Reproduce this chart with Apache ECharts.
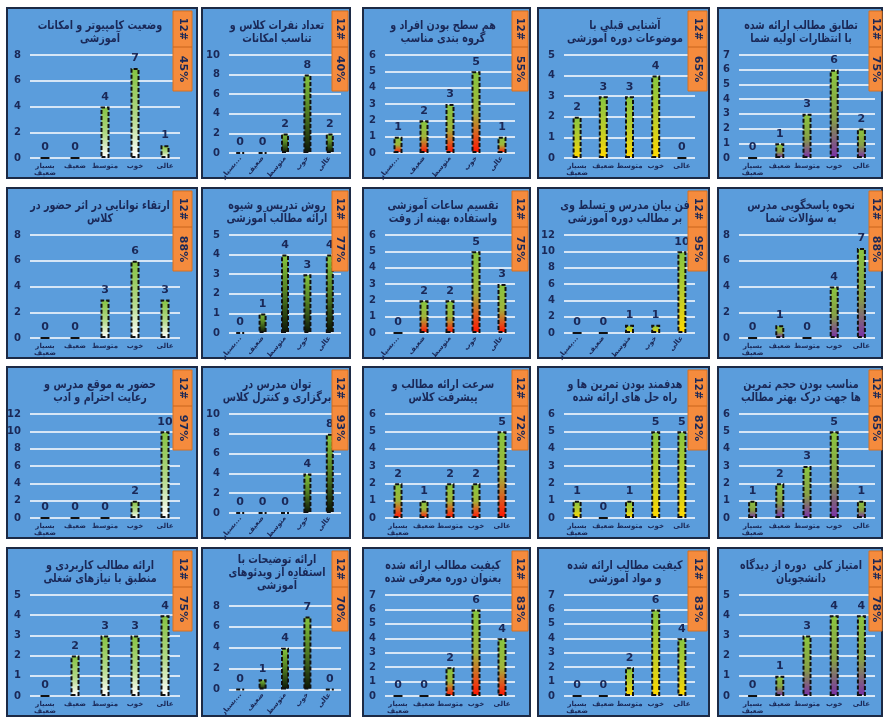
<!DOCTYPE html>
<html><head><meta charset="utf-8">
<script src="https://cdn.jsdelivr.net/npm/echarts@6/dist/echarts.min.js"></script>
<style>html,body{margin:0;padding:0;background:#fff}#c{width:883px;height:719px}</style>
</head><body><div id="c"></div>
<script>
const categories = ['بسیار ضعیف','ضعیف','متوسط','خوب','عالی'];

const titlesRow1 = ['وضعیت کامپیوتر و امکانات\nآموزشی','تعداد نفرات کلاس و\nتناسب امکانات','هم سطح بودن افراد و\nگروه بندی مناسب','آشنایی قبلی با\nموضوعات دوره آموزشی','تطابق مطالب ارائه شده\nبا انتظارات اولیه شما'];
const titlesRow2 = ['ارتقاء توانایی در اثر حضور در\nکلاس','روش تدریس و شیوه\nارائه مطالب آموزشی','تقسیم ساعات آموزشی\nواستفاده بهینه از وقت','فن بیان مدرس و تسلط وی\nبر مطالب دوره آموزشی','نحوه پاسخگویی مدرس\nبه سؤالات شما'];
const titlesRow3 = ['حضور به موقع مدرس و\nرعایت احترام و ادب','توان مدرس در\nبرگزاری و کنترل کلاس','سرعت ارائه مطالب و\nپیشرفت کلاس','هدفمند بودن تمرین ها و\nراه حل های ارائه شده','مناسب بودن حجم تمرین\nها جهت درک بهتر مطالب'];
const titlesRow4 = ['ارائه مطالب کاربردی و\nمنطبق با نیازهای شغلی','ارائه توضیحات با\nاستفاده از ویدئوهای\nآموزشی','کیفیت مطالب ارائه شده\nبعنوان دوره معرفی شده','کیفیت مطالب ارائه شده\nو مواد آموزشی','امتیاز کلی  دوره از دیدگاه\nدانشجویان'];

const valuesRow1 = [[0,0,4,7,1],[0,0,2,8,2],[1,2,3,5,1],[2,3,3,4,0],[0,1,3,6,2]];
const valuesRow2 = [[0,0,3,6,3],[0,1,4,3,4],[0,2,2,5,3],[0,0,1,1,10],[0,1,0,4,7]];
const valuesRow3 = [[0,0,0,2,10],[0,0,0,4,8],[2,1,2,2,5],[1,0,1,5,5],[1,2,3,5,1]];
const valuesRow4 = [[0,2,3,3,4],[0,1,4,7,0],[0,0,2,6,4],[0,0,2,6,4],[0,1,3,4,4]];

const percentsRow1 = ['45%','40%','55%','65%','75%'];
const percentsRow2 = ['88%','77%','75%','95%','88%'];
const percentsRow3 = ['97%','93%','72%','82%','65%'];
const percentsRow4 = ['75%','70%','83%','83%','78%'];
const countLabel = '12#';

const yMaxRow1 = [8,10,6,5,7], yStepRow1 = [2,2,1,1,1];
const yMaxRow2 = [8,5,6,12,8], yStepRow2 = [2,1,1,2,2];
const yMaxRow3 = [12,10,6,6,6], yStepRow3 = [2,2,1,1,1];
const yMaxRow4 = [5,8,7,7,5], yStepRow4 = [1,2,1,1,1];

const rotatedRow1 = [false,true,true,false,false];
const rotatedRow2 = [false,true,true,true,false];
const rotatedRow3 = [false,true,false,false,false];
const rotatedRow4 = [false,true,false,false,false];

const titles = [titlesRow1,titlesRow2,titlesRow3,titlesRow4];
const values = [valuesRow1,valuesRow2,valuesRow3,valuesRow4];
const percents = [percentsRow1,percentsRow2,percentsRow3,percentsRow4];
const yMax = [yMaxRow1,yMaxRow2,yMaxRow3,yMaxRow4];
const yStep = [yStepRow1,yStepRow2,yStepRow3,yStepRow4];
const rotated = [rotatedRow1,rotatedRow2,rotatedRow3,rotatedRow4];

// layout
const colX = [[7,197],[202,350],[363,530],[538,709],[718,882]];
const rowY = [[8,178],[188,358],[367,538],[548,716]];
const gridX = [[30,180],[229,341],[385,515],[564,695],[739,875]];
const titleCx = [100,277,443,625,801];
const boxX = [[173,192],[332,348],[512,528],[688,707],[869,882]];
const navy = '#1a2857';
const FONT = '"DejaVu Sans", sans-serif';

function grad(c){
  const ends = [
    [[0,'#84c140'],[0.55,'#b3d98a'],[1,'#ffffff']],
    [[0,'#86c53f'],[0.5,'#4f7a22'],[1,'#0a1405']],
    [[0,'#86c53f'],[0.5,'#9fb53a'],[0.8,'#e0541c'],[1,'#ff1200']],
    [[0,'#86c53f'],[0.5,'#b9cc2c'],[1,'#ffd800']],
    [[0,'#8cc63f'],[0.55,'#86a046'],[1,'#7a2fa8']]
  ][c];
  return {type:'linear',x:0,y:0,x2:0,y2:1,colorStops:ends.map(s=>({offset:s[0],color:s[1]}))};
}

const grid=[], xAxis=[], yAxis=[], series=[], graphic=[];
for(let r=0;r<4;r++){
  for(let c=0;c<5;c++){
    const i=r*5+c;
    const px0=colX[c][0], px1=colX[c][1], py0=rowY[r][0], py1=rowY[r][1];
    const rot=rotated[r][c];
    const threeLine = titles[r][c].split('\n').length>2;
    const gt = py0 + (threeLine?58:47);
    const gb = py1 - (rot?25:20);
    grid.push({left:gridX[c][0], width:gridX[c][1]-gridX[c][0], top:gt, height:gb-gt});
    xAxis.push({gridIndex:i,type:'category',data:categories,
      axisLine:{show:false},axisTick:{show:false},
      axisLabel:{interval:0,color:navy,fontWeight:'bold',fontSize:7,fontFamily:FONT,margin:rot?4:5,
        rotate:rot?50:0,lineHeight:7,
        formatter:(v,idx)=> rot ? (idx===0?'بسیار...':v) : (idx===0?'بسیار\nضعیف':v)}});
    yAxis.push({gridIndex:i,type:'value',min:0,max:yMax[r][c],interval:yStep[r][c],
      axisLine:{show:false},axisTick:{show:false},
      splitLine:{lineStyle:{color:'#ffffff',width:1.5}},
      axisLabel:{color:navy,fontWeight:'bold',fontSize:10,fontFamily:FONT,margin:9}});
    series.push({type:'bar',xAxisIndex:i,yAxisIndex:i,data:values[r][c],
      barWidth:c===1?8:9,
      itemStyle:{color:grad(c),borderColor:'#111',borderWidth:2,borderType:[4,2]},
      label:{show:true,position:'top',distance:4,color:navy,fontWeight:'bold',fontSize:11,fontFamily:FONT}});
    // panel
    graphic.push({type:'rect',z:-10,shape:{x:px0,y:py0,width:px1-px0,height:py1-py0},
      style:{fill:'#5b9ddc',stroke:'#1c2a45',lineWidth:2}});
    // title
    graphic.push({type:'text',z:50,x:titleCx[c],y:py0+(threeLine?5:11),scaleX:0.8,scaleY:1,
      style:{text:titles[r][c],fill:navy,font:'bold 12px '+FONT,textAlign:'center',lineHeight:13}});
    // orange box
    const bx0=boxX[c][0], bx1=boxX[c][1], by0=py0+3;
    graphic.push({type:'rect',z:40,shape:{x:bx0,y:by0,width:bx1-bx0,height:80},
      style:{fill:'#f58b3d',stroke:'#d9701f',lineWidth:1}});
    graphic.push({type:'line',z:41,shape:{x1:bx0,y1:by0+36,x2:bx1,y2:by0+36},
      style:{stroke:'#c9651c',lineWidth:1}});
    graphic.push({type:'text',z:42,x:(bx0+bx1)/2,y:by0+18,rotation:-Math.PI/2,
      style:{text:countLabel,fill:navy,font:'bold 10px '+FONT,textAlign:'center',textVerticalAlign:'middle'}});
    graphic.push({type:'text',z:42,x:(bx0+bx1)/2,y:by0+58,rotation:-Math.PI/2,
      style:{text:percents[r][c],fill:navy,font:'bold 11px '+FONT,textAlign:'center',textVerticalAlign:'middle'}});
  }
}

const chart = echarts.init(document.getElementById('c'),null,{renderer:'canvas'});
chart.setOption({backgroundColor:'#ffffff',animation:false,grid,xAxis,yAxis,series,graphic});
</script></body></html>
